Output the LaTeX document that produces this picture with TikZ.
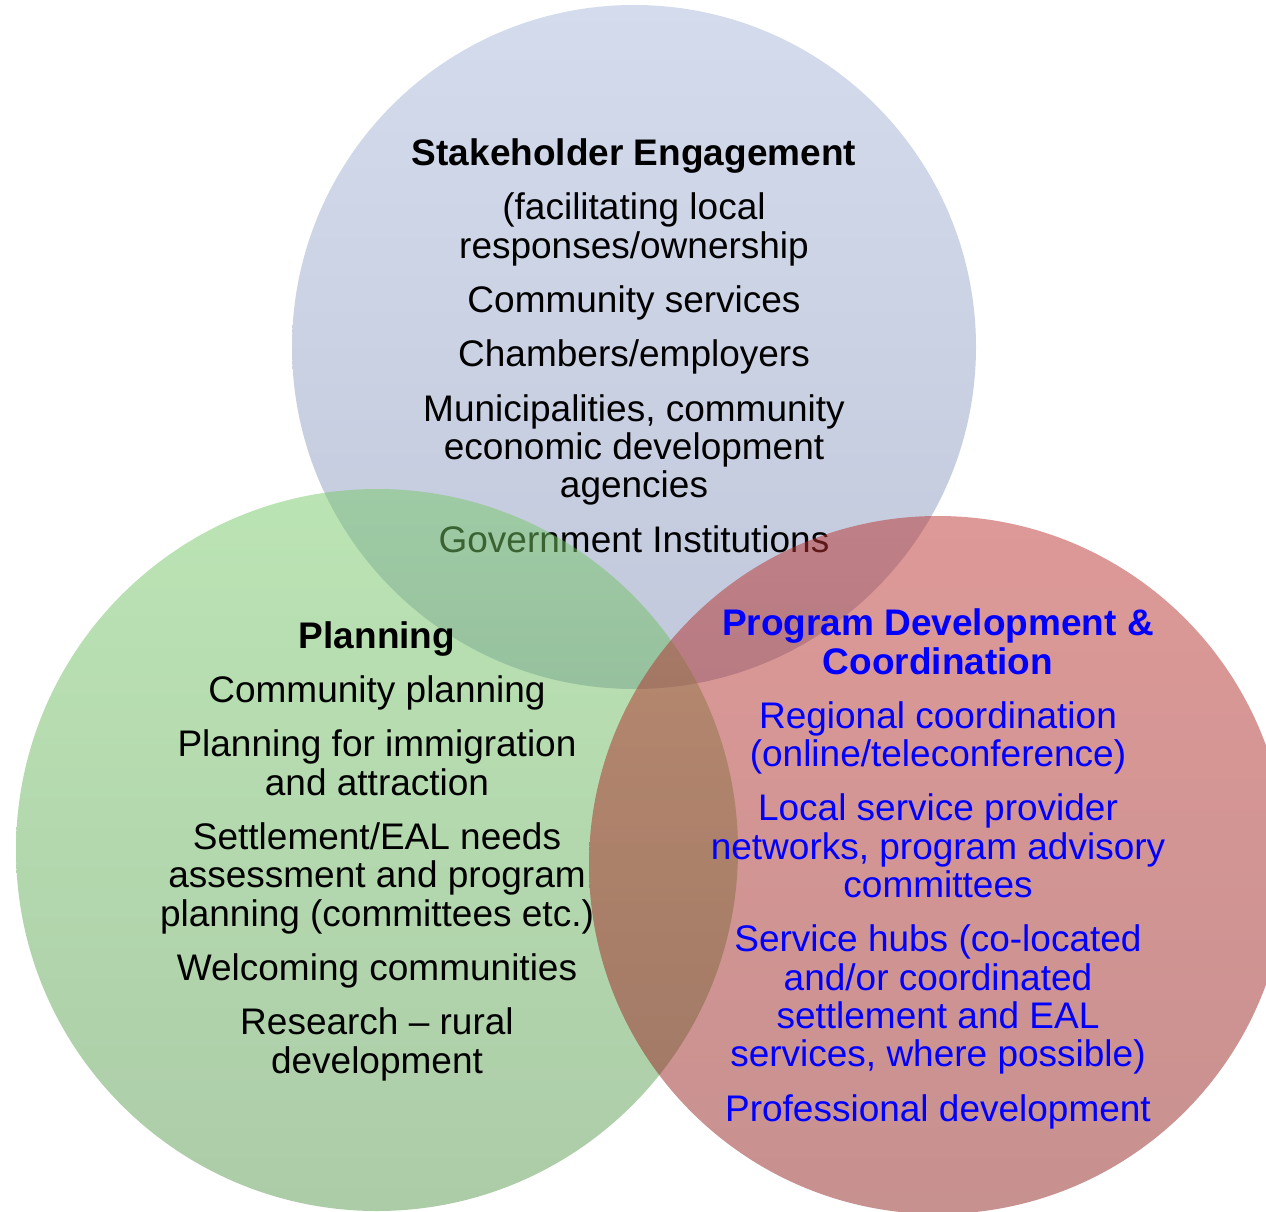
\documentclass[tikz,border=0pt]{standalone}
\usepackage{fontspec}
\setmainfont{Liberation Sans}
\definecolor{blueT}{RGB}{211,219,236}
\definecolor{blueB}{RGB}{193,200,219}
\definecolor{greenT}{RGB}{119,201,105}
\definecolor{greenB}{RGB}{89,153,81}
\definecolor{redT}{RGB}{187,51,47}
\definecolor{redB}{RGB}{143,35,33}
\begin{document}
\begin{tikzpicture}[x=1pt,y=-1pt,
  txt/.style={align=center,inner sep=0pt,anchor=base,font=\fontsize{37}{38.3}\selectfont},
  overlay circle/.style={opacity=0.5}]
\useasboundingbox (0,0) rectangle (1266,1212);
% top circle
\shade[top color=blueT,bottom color=blueB] (634,347) circle (342pt);
\node[txt] (stake) at (634,552) {\textbf{Stakeholder Engagement}\\[16pt]
(facilitating local\\responses/ownership\\[16pt]
Community services\\[16pt]
Chambers/employers\\[16pt]
Municipalities, community\\economic development\\agencies\\[16pt]
Government Institutions};
% left circle
\shade[overlay circle,top color=greenT,bottom color=greenB] (377,850) circle (361pt);
\node[txt] (plan) at (377,1073) {\textbf{Planning}\\[16pt]
Community planning\\[16pt]
Planning for immigration\\and attraction\\[16pt]
Settlement/EAL needs\\assessment and program\\planning (committees etc.)\\[16pt]
Welcoming communities\\[16pt]
Research – rural\\development};
% right circle
\shade[overlay circle,top color=redT,bottom color=redB] (938,865) circle (349pt);
\node[txt,text=blue] (prog) at (938,1121) {\textbf{Program Development \&}\\\textbf{Coordination}\\[16pt]
Regional coordination\\(online/teleconference)\\[16pt]
Local service provider\\networks, program advisory\\committees\\[16pt]
Service hubs (co-located\\and/or coordinated\\settlement and EAL\\services, where possible)\\[16pt]
Professional development};
\end{tikzpicture}
\end{document}
